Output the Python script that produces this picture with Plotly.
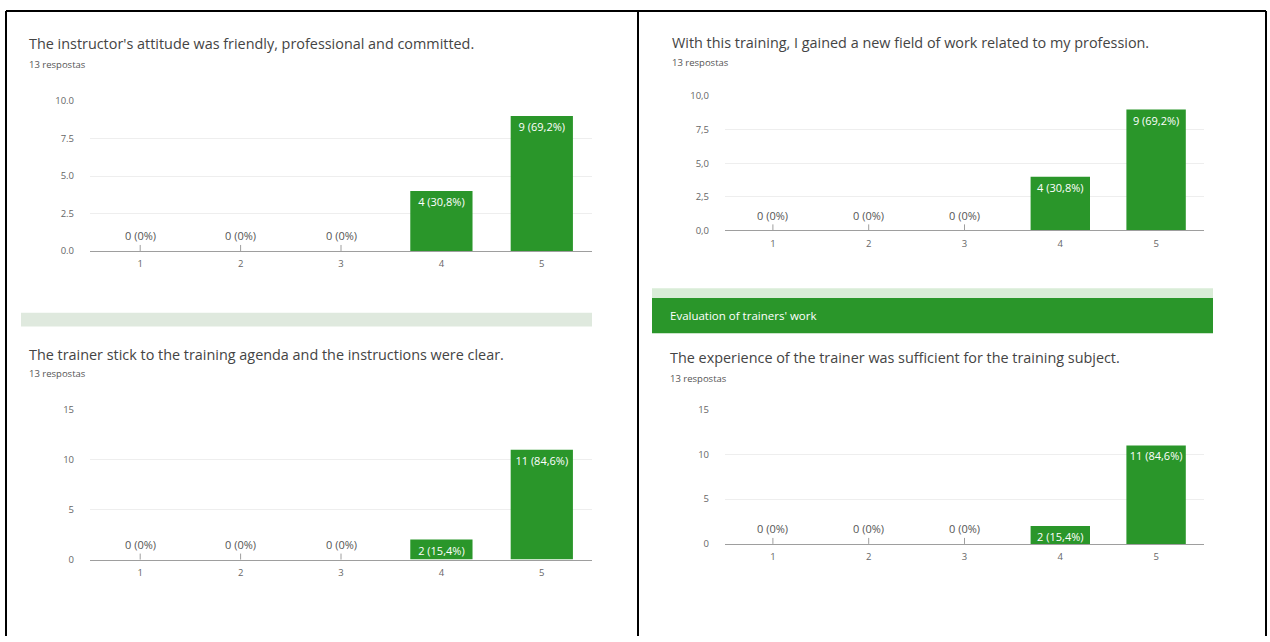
import plotly.graph_objects as go

W, H = 1270, 642

# ── data ────────────────────────────────────────────────────────────────
scale = [1, 2, 3, 4, 5]
scale_labels = ["1", "2", "3", "4", "5"]
total_responses = 13

attitude_counts = [0, 0, 0, 4, 9]
new_field_counts = [0, 0, 0, 4, 9]
agenda_counts = [0, 0, 0, 2, 11]
experience_counts = [0, 0, 0, 2, 11]

ticks_10 = [0, 2.5, 5, 7.5, 10]
ticks_10_dot = ["0.0", "2.5", "5.0", "7.5", "10.0"]
ticks_10_comma = ["0,0", "2,5", "5,0", "7,5", "10,0"]
ticks_15 = [0, 5, 10, 15]
ticks_15_text = ["0", "5", "10", "15"]

titles = [
    "The instructor's attitude was friendly, professional and committed.",
    "With this training, I gained a new field of work related to my profession.",
    "The trainer stick to the training agenda and the instructions were clear.",
    "The experience of the trainer was sufficient for the training subject.",
]
section_header = "Evaluation of trainers' work"
responses_text = f"{total_responses} respostas"

GREEN = "#2a962a"
FONT = "Open Sans, Roboto, Arial, sans-serif"


def px(x):
    return x / W


def py(y):
    return 1 - y / H


def label(v):
    if v == 0:
        return "0 (0%)"
    return f"{v} ({v / total_responses * 100:.1f}%)".replace(".", ",")


# (counts, x0, x1, y_base, y_top, range_max, tickvals, ticktext, title_x, title_y, sub_y)
panels = [
    (attitude_counts, 90, 592, 249, 96, 10, ticks_10, ticks_10_dot, 27, 37, 59),
    (new_field_counts, 725, 1204, 228, 91, 10, ticks_10, ticks_10_comma, 670, 36, 57),
    (agenda_counts, 90, 592, 564, 411, 15, ticks_15, ticks_15_text, 27, 355, 374),
    (experience_counts, 725, 1204, 548, 411, 15, ticks_15, ticks_15_text, 668, 358, 379),
]

fig = go.Figure()
annotations = []
layout_axes = {}

for i, (counts, x0, x1, yb, yt, rmax, tv, tt, tx, ty, sy) in enumerate(panels):
    n = "" if i == 0 else str(i + 1)
    fig.add_trace(go.Bar(
        x=scale, y=counts, xaxis="x" + n, yaxis="y" + n,
        marker=dict(color=GREEN, line=dict(width=0)),
        text=[label(v) if v else "" for v in counts],
        textposition="inside", insidetextanchor="end", constraintext="none", textangle=0,
        textfont=dict(color="white", size=11, family=FONT),
        showlegend=False, hoverinfo="skip",
    ))
    # zero-height bars: label on a short stem above the baseline
    for cat, v in zip(scale, counts):
        if v == 0:
            annotations.append(dict(
                x=cat, y=0, xref="x" + n, yref="y" + n, text=label(v),
                showarrow=True, arrowhead=0, arrowwidth=1, arrowcolor="#9e9e9e",
                ax=0, ay=-15, font=dict(size=11, color="#555555", family=FONT),
            ))
    layout_axes["xaxis" + n] = dict(
        domain=[px(x0), px(x1)], anchor="y" + n, range=[0.5, 5.5],
        tickvals=scale, ticktext=scale_labels,
        showgrid=False, showline=True, linecolor="#9e9e9e", linewidth=1,
        ticks="", ticklabelstandoff=4,
        tickfont=dict(size=9.5, color="#666666", family=FONT), fixedrange=True,
    )
    layout_axes["yaxis" + n] = dict(
        domain=[py(yb), py(yt)], anchor="x" + n, range=[0, rmax],
        tickvals=tv, ticktext=tt, showgrid=True, gridcolor="#eeeeee",
        zeroline=False, showline=False, ticks="", ticklabelstandoff=15,
        tickfont=dict(size=9.5, color="#666666", family=FONT), fixedrange=True,
    )
    annotations.append(dict(
        x=px(tx), y=py(ty), xref="paper", yref="paper", xanchor="left", yanchor="middle",
        text=titles[i], showarrow=False, font=dict(size=14.4, color="#444444", family=FONT),
    ))
    annotations.append(dict(
        x=px(tx), y=py(sy), xref="paper", yref="paper", xanchor="left", yanchor="middle",
        text=responses_text, showarrow=False, font=dict(size=9.5, color="#555555", family=FONT),
    ))

annotations.append(dict(
    x=px(668), y=py(315), xref="paper", yref="paper", xanchor="left", yanchor="middle",
    text=section_header, showarrow=False, font=dict(size=11.5, color="white", family=FONT),
))

shapes = [
    # section separators
    dict(type="rect", xref="paper", yref="paper", x0=px(21), x1=px(592), y0=py(326), y1=py(312),
         fillcolor="#dfe9de", line=dict(width=0), layer="below"),
    dict(type="rect", xref="paper", yref="paper", x0=px(652), x1=px(1213), y0=py(297), y1=py(287),
         fillcolor="#d9ecd7", line=dict(width=0), layer="below"),
    dict(type="rect", xref="paper", yref="paper", x0=px(652), x1=px(1213), y0=py(333), y1=py(297),
         fillcolor=GREEN, line=dict(width=0), layer="below"),
    # table borders
    dict(type="line", xref="paper", yref="paper", x0=px(6), x1=px(1266), y0=py(4), y1=py(4),
         line=dict(color="black", width=2)),
    dict(type="line", xref="paper", yref="paper", x0=px(6), x1=px(6), y0=py(4), y1=0,
         line=dict(color="black", width=2)),
    dict(type="line", xref="paper", yref="paper", x0=px(638), x1=px(638), y0=py(4), y1=0,
         line=dict(color="black", width=2)),
    dict(type="line", xref="paper", yref="paper", x0=px(1266), x1=px(1266), y0=py(4), y1=0,
         line=dict(color="black", width=2)),
]

fig.update_layout(
    autosize=True, margin=dict(l=0, r=0, t=0, b=0),
    paper_bgcolor="white", plot_bgcolor="white",
    bargap=0.38, font=dict(family=FONT),
    annotations=annotations, shapes=shapes,
    **layout_axes,
)

# let the plot fill the whole browser window
fig.write_html(
    "out.html",
    config={"displayModeBar": False, "responsive": True},
    default_width="100vw", default_height="100vh",
    post_script=(
        "document.body.style.margin='0';"
        "document.documentElement.style.overflow='hidden';"
    ),
)
